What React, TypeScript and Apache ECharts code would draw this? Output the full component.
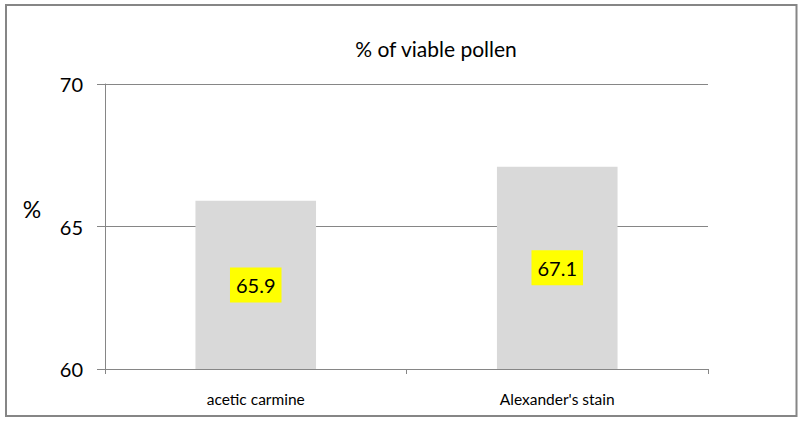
import React, { useEffect, useRef } from "react";
import * as echarts from "echarts";

const categories = ["acetic carmine", "Alexander's stain"];
const values = [65.9, 67.1];
const yTicks = [60, 65, 70];
const titleText = "% of viable pollen";
const yAxisName = "%";

export default function App() {
  const ref = useRef<HTMLDivElement>(null);
  useEffect(() => {
    document.body.style.margin = "0";
    if (!ref.current) return;
    const chart = echarts.init(ref.current, null, { renderer: "svg" });
    const font = "Lato";
    chart.setOption({
      animation: false,
      backgroundColor: "#ffffff",
      title: {
        text: titleText,
        left: 431,
        textAlign: "center",
        top: 33,
        textStyle: { fontFamily: font, fontSize: 21, fontWeight: "normal", color: "#000" },
      },
      graphic: [
        {
          type: "rect",
          shape: { x: 6, y: 5, width: 790.5, height: 411 },
          style: { fill: "none", stroke: "#868686", lineWidth: 2 },
          silent: true,
        },
        {
          type: "text",
          x: 32,
          y: 209,
          style: {
            text: yAxisName,
            fontFamily: font,
            fontSize: 23,
            fill: "#000",
            align: "center",
            verticalAlign: "middle",
          },
        },
      ],
      grid: { left: 105, right: 93, top: 84, bottom: 53, containLabel: false },
      xAxis: {
        type: "category",
        data: categories,
        boundaryGap: true,
        axisLine: { show: true, lineStyle: { color: "#868686", width: 1 } },
        axisTick: { show: true, length: 5, lineStyle: { color: "#868686" } },
        axisLabel: { fontFamily: font, fontSize: 15.5, color: "#000", margin: 22 },
      },
      yAxis: {
        type: "value",
        min: yTicks[0],
        max: yTicks[yTicks.length - 1],
        interval: 5,
        axisLine: { show: true, lineStyle: { color: "#868686", width: 1 } },
        axisTick: { show: true, length: 8, lineStyle: { color: "#868686" } },
        axisLabel: { fontFamily: font, fontSize: 20, color: "#000", margin: 22 },
        splitLine: { show: true, lineStyle: { color: "#868686", width: 1 } },
      },
      series: [
        {
          type: "bar",
          data: values,
          barWidth: "40%",
          itemStyle: { color: "#d9d9d9" },
          label: {
            show: true,
            position: "inside",
            formatter: (p: any) => p.value.toFixed(1),
            fontFamily: font,
            fontSize: 20,
            color: "#000",
            backgroundColor: "#ffff00",
            padding: [8, 6, 7, 6],
          },
        },
      ],
    });
    return () => chart.dispose();
  }, []);
  return <div ref={ref} style={{ width: 801, height: 422 }} />;
}
